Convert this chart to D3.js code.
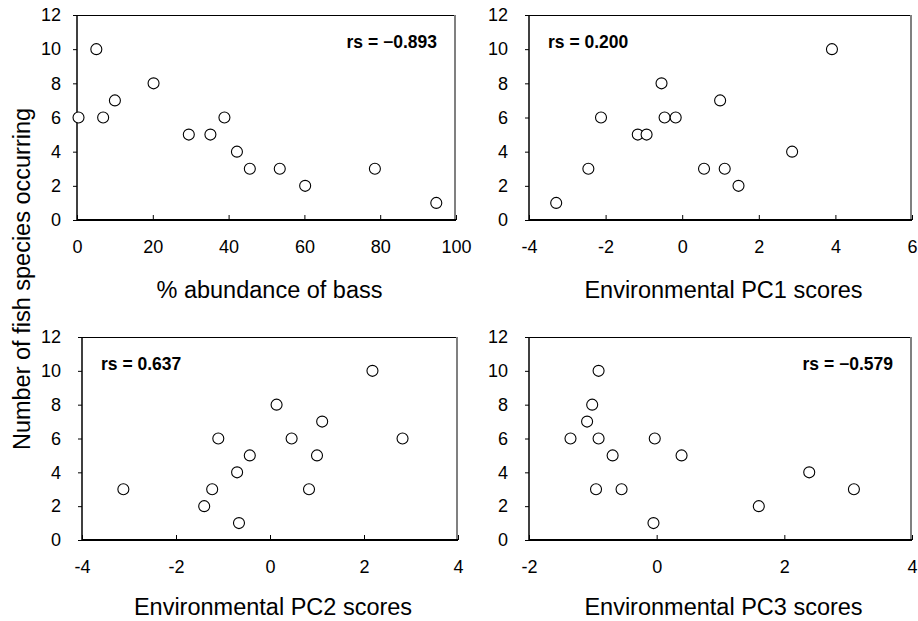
<!DOCTYPE html>
<html>
<head>
<meta charset="utf-8">
<script src="https://d3js.org/d3.v7.min.js"></script>
<style>
  body { margin: 0; background: #fff; }
  text { font-family: "Liberation Sans", Arial, sans-serif; fill: #000; }
</style>
</head>
<body>
<script>
var width = 918;
var height = 621;

// species counts share one axis
var speciesTicks = [0, 2, 4, 6, 8, 10, 12];

var bassPct     = [0.4, 5.1, 6.9, 10, 20.2, 29.5, 35.2, 38.9, 42.2, 45.6, 53.5, 60.2, 78.6, 94.8];
var bassSpecies = [6, 10, 6, 7, 8, 5, 5, 6, 4, 3, 3, 2, 3, 1];
var bassTicks   = [0, 20, 40, 60, 80, 100];

var pc1Scores  = [-3.29, -2.45, -2.12, -1.16, -0.93, -0.54, -0.46, -0.17, 0.57, 0.99, 1.11, 1.47, 2.87, 3.91];
var pc1Species = [1, 3, 6, 5, 5, 8, 6, 6, 3, 7, 3, 2, 4, 10];
var pc1Ticks   = [-4, -2, 0, 2, 4, 6];

var pc2Scores  = [-3.12, -1.40, -1.23, -1.10, -0.70, -0.66, -0.43, 0.14, 0.46, 0.83, 1.00, 1.11, 2.18, 2.82];
var pc2Species = [3, 2, 3, 6, 4, 1, 5, 8, 6, 3, 5, 7, 10, 6];
var pc2Ticks   = [-4, -2, 0, 2, 4];

var pc3Scores  = [-1.35, -1.09, -1.01, -0.95, -0.91, -0.91, -0.69, -0.55, -0.05, -0.03, 0.39, 1.60, 2.39, 3.09];
var pc3Species = [6, 7, 8, 3, 10, 6, 5, 3, 1, 6, 5, 2, 4, 3];
var pc3Ticks   = [-2, 0, 2, 4];

var titles = ["% abundance of bass", "Environmental PC1 scores", "Environmental PC2 scores", "Environmental PC3 scores"];
var rsLabels = ["rs = \u22120.893", "rs = 0.200", "rs = 0.637", "rs = \u22120.579"];

var panels = [
  {xs: bassPct,   ys: bassSpecies, ticks: bassTicks, left: 77,  right: 456, top: 15,  bottom: 220, pad: 12, titleY: 298, rsRight: true},
  {xs: pc1Scores, ys: pc1Species,  ticks: pc1Ticks,  left: 529, right: 912, top: 15,  bottom: 220, pad: 17, titleY: 298, rsRight: false},
  {xs: pc2Scores, ys: pc2Species,  ticks: pc2Ticks,  left: 82,  right: 458, top: 337, bottom: 540, pad: 17, titleY: 615, rsRight: false},
  {xs: pc3Scores, ys: pc3Species,  ticks: pc3Ticks,  left: 529, right: 912, top: 337, bottom: 540, pad: 17, titleY: 615, rsRight: true}
];

// plain hyphen for negatives, like the original
var plainFormat = function(d) { return String(d); };

var svg = d3.select("body")
  .append("svg")
  .attr("width", width)
  .attr("height", height);

panels.forEach(function(p, i) {
  var xScale = d3.scaleLinear()
    .domain(d3.extent(p.ticks))
    .range([p.left, p.right]);

  var yScale = d3.scaleLinear()
    .domain(d3.extent(speciesTicks))
    .range([p.bottom, p.top]);

  var g = svg.append("g");

  // top and right frame
  g.append("line")
    .attr("x1", p.left).attr("x2", p.right)
    .attr("y1", p.top + 0.5).attr("y2", p.top + 0.5)
    .attr("stroke", "#000").attr("stroke-width", 1);
  g.append("line")
    .attr("x1", p.right - 1).attr("x2", p.right - 1)
    .attr("y1", p.top).attr("y2", p.bottom)
    .attr("stroke", "#808080").attr("stroke-width", 2);

  var yAxis = g.append("g")
    .attr("transform", `translate(${p.left},0)`)
    .call(d3.axisLeft(yScale).tickValues(speciesTicks).tickFormat(plainFormat).tickSize(4).tickPadding(p.pad));
  yAxis.select(".domain").remove();
  yAxis.selectAll("text").style("font-size", "18px");

  var xAxis = g.append("g")
    .attr("transform", `translate(0,${p.bottom})`)
    .call(d3.axisBottom(xScale).tickValues(p.ticks).tickFormat(plainFormat).tickSize(-5).tickPadding(20));
  xAxis.select(".domain").remove();
  xAxis.selectAll("text").style("font-size", "18px");

  // left and bottom axis lines
  g.append("line")
    .attr("x1", p.left).attr("x2", p.left)
    .attr("y1", p.top).attr("y2", p.bottom)
    .attr("stroke", "#000").attr("stroke-width", 1.5);
  g.append("line")
    .attr("x1", p.left).attr("x2", p.right)
    .attr("y1", p.bottom).attr("y2", p.bottom)
    .attr("stroke", "#000").attr("stroke-width", 2);

  g.selectAll("circle")
    .data(p.xs.map(function(d, k) { return {x: d, y: p.ys[k]}; }))
    .enter()
    .append("circle")
      .attr("cx", function(d) { return xScale(d.x); })
      .attr("cy", function(d) { return yScale(d.y); })
      .attr("r", 5.5)
      .attr("fill", "#fff")
      .attr("stroke", "#000")
      .attr("stroke-width", 1.1);

  g.append("text")
    .attr("x", p.rsRight ? p.right - 19 : p.left + 19)
    .attr("y", p.top + 33)
    .attr("text-anchor", p.rsRight ? "end" : "start")
    .style("font-size", "17.5px")
    .style("font-weight", "bold")
    .text(rsLabels[i]);

  g.append("text")
    .attr("x", (p.left + p.right) / 2 + 3)
    .attr("y", p.titleY)
    .attr("text-anchor", "middle")
    .style("font-size", "23.5px")
    .text(titles[i]);
});

svg.append("text")
  .attr("transform", "translate(30,279) rotate(-90)")
  .attr("text-anchor", "middle")
  .style("font-size", "23.5px")
  .text("Number of fish species occurring");
</script>
</body>
</html>
